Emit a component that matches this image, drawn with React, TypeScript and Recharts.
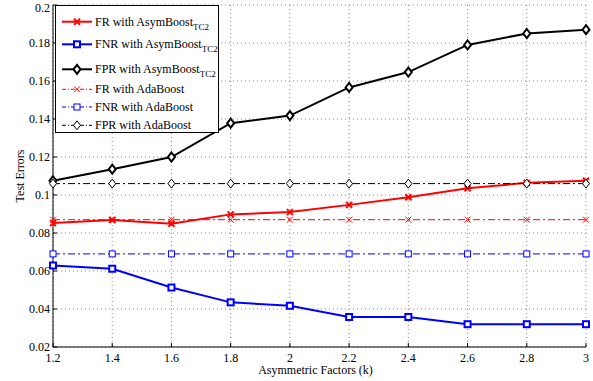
import { LineChart, Line, XAxis, YAxis, CartesianGrid, Legend } from 'recharts'

const factors = [1.2, 1.4, 1.6, 1.8, 2.0, 2.2, 2.4, 2.6, 2.8, 3.0]
const frAsym = [0.0852, 0.0868, 0.0849, 0.0898, 0.091, 0.0948, 0.0988, 0.1035, 0.1064, 0.1075]
const fnrAsym = [0.0629, 0.0612, 0.0513, 0.0435, 0.0417, 0.0358, 0.0358, 0.032, 0.032, 0.032]
const fprAsym = [0.1075, 0.1136, 0.12, 0.1378, 0.1418, 0.1566, 0.1647, 0.179, 0.185, 0.187]
const frAda = [0.087, 0.087, 0.087, 0.087, 0.087, 0.087, 0.087, 0.087, 0.087, 0.087]
const fnrAda = [0.069, 0.069, 0.069, 0.069, 0.069, 0.069, 0.069, 0.069, 0.069, 0.069]
const fprAda = [0.106, 0.106, 0.106, 0.106, 0.106, 0.106, 0.106, 0.106, 0.106, 0.106]
const xTicks = [1.2, 1.4, 1.6, 1.8, 2.0, 2.2, 2.4, 2.6, 2.8, 3.0]
const yTicks = [0.02, 0.04, 0.06, 0.08, 0.1, 0.12, 0.14, 0.16, 0.18, 0.2]

type Shape = 'x' | 'square' | 'diamond'

interface SeriesDef {
  key: string
  name: string
  sub?: string
  color: string
  shape: Shape
  bold: boolean
}

const series: SeriesDef[] = [
  { key: 'frAsym', name: 'FR with AsymBoost', sub: 'TC2', color: '#ff0000', shape: 'x', bold: true },
  { key: 'fnrAsym', name: 'FNR with AsymBoost', sub: 'TC2', color: '#0000ff', shape: 'square', bold: true },
  { key: 'fprAsym', name: 'FPR with AsymBoost', sub: 'TC2', color: '#000000', shape: 'diamond', bold: true },
  { key: 'frAda', name: 'FR with AdaBoost', color: '#ff0000', shape: 'x', bold: false },
  { key: 'fnrAda', name: 'FNR with AdaBoost', color: '#0000ff', shape: 'square', bold: false },
  { key: 'fprAda', name: 'FPR with AdaBoost', color: '#000000', shape: 'diamond', bold: false },
]

const data = factors.map((k, i) => ({
  k,
  frAsym: frAsym[i],
  fnrAsym: fnrAsym[i],
  fprAsym: fprAsym[i],
  frAda: frAda[i],
  fnrAda: fnrAda[i],
  fprAda: fprAda[i],
}))

const fmt = (v: number) => String(Number(v.toFixed(2)))
const dashDot = '7 3 2 3'

function marker(shape: Shape, cx: number, cy: number, color: string, bold: boolean, key?: string) {
  const sw = bold ? 2 : 1
  if (shape === 'x') {
    const s = 3
    return (
      <g key={key} stroke={color} strokeWidth={sw}>
        <line x1={cx - s} y1={cy - s} x2={cx + s} y2={cy + s} />
        <line x1={cx - s} y1={cy + s} x2={cx + s} y2={cy - s} />
      </g>
    )
  }
  if (shape === 'square') {
    const s = 3
    return <rect key={key} x={cx - s} y={cy - s} width={2 * s} height={2 * s} fill="#fff" stroke={color} strokeWidth={sw} />
  }
  const w = 3.5
  const h = 4.5
  return (
    <polygon
      key={key}
      points={`${cx},${cy - h} ${cx + w},${cy} ${cx},${cy + h} ${cx - w},${cy}`}
      fill="#fff"
      stroke={color}
      strokeWidth={sw}
    />
  )
}

function LegendBox() {
  const rows = [15.7, 38.3, 63.3, 83.3, 101, 119.3]
  return (
    <div style={{ position: 'relative', width: 164, height: 128, border: '1px solid #000', background: '#fff', boxSizing: 'border-box' }}>
      <svg width={164} height={128} style={{ position: 'absolute', left: 0, top: 0 }}>
        {series.map((s, i) => (
          <g key={s.key}>
            <line
              x1={6}
              x2={36}
              y1={rows[i]}
              y2={rows[i]}
              stroke={s.color}
              strokeWidth={s.bold ? 2 : 1}
              strokeDasharray={s.bold ? undefined : '4 2 1 2'}
            />
            {marker(s.shape, 21, rows[i], s.color, s.bold)}
            <text x={39} y={rows[i] + 4} fontSize={12} fill="#000">
              {s.name}
              {s.sub && (
                <tspan fontSize={9} dy={4}>
                  {s.sub}
                </tspan>
              )}
            </text>
          </g>
        ))}
      </svg>
    </div>
  )
}

export default function App() {
  return (
    <div style={{ position: 'absolute', left: 0, top: 0, fontFamily: '"Liberation Serif", "Times New Roman", serif', background: '#fff' }}>
      <LineChart width={593} height={381} data={data} margin={{ top: 5, right: 7, bottom: 0, left: 0 }}>
        <CartesianGrid strokeDasharray="1 3" stroke="#888" />
        <XAxis
          dataKey="k"
          type="number"
          domain={[1.2, 3]}
          ticks={xTicks}
          tickFormatter={fmt}
          height={34}
          tickSize={-4}
          tickMargin={10}
          stroke="#000"
          tick={{ fill: '#000', fontSize: 12 }}
          label={{ value: 'Asymmetric Factors (k)', position: 'insideBottom', offset: 7, dx: -4, fill: '#000', fontSize: 12 }}
        />
        <YAxis
          type="number"
          domain={[0.02, 0.2]}
          ticks={yTicks}
          tickFormatter={fmt}
          width={53}
          tickSize={-4}
          tickMargin={7}
          stroke="#000"
          tick={{ fill: '#000', fontSize: 12 }}
          label={{ value: 'Test Errors', angle: -90, position: 'insideLeft', offset: 20, textAnchor: 'middle', fill: '#000', fontSize: 12 }}
        />
        <Legend
          layout="vertical"
          align="center"
          verticalAlign="middle"
          content={() => <LegendBox />}
          wrapperStyle={{ left: 55, top: 5, width: 164, height: 128 }}
        />
        {series.map((s) => (
          <Line
            key={s.key}
            type="linear"
            dataKey={s.key}
            name={s.name}
            stroke={s.color}
            strokeWidth={s.bold ? 2 : 1}
            strokeDasharray={s.bold ? undefined : dashDot}
            dot={(p: any) => marker(s.shape, p.cx, p.cy, s.color, s.bold, `${s.key}-${p.index}`)}
            activeDot={false}
            isAnimationActive={false}
          />
        ))}
      </LineChart>
    </div>
  )
}
